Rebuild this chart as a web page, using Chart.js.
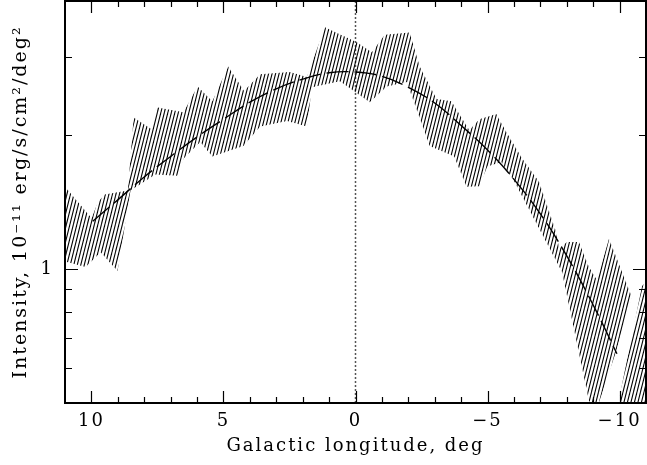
<!DOCTYPE html>
<html>
<head>
<meta charset="utf-8">
<script src="https://cdn.jsdelivr.net/npm/chart.js@4.4.0/dist/chart.umd.min.js"></script>
<style>
  html, body { margin: 0; padding: 0; background: #fff; }
  canvas { display: block; }
</style>
</head>
<body>
<canvas id="chart" width="647" height="465"></canvas>
<script>
// --- DATA ---
// hatched error band, main part: upper and lower edges
const bandUpperLon = [11.0, 9.99, 9.76, 9.50, 8.62, 8.40, 7.72, 7.54, 6.51, 5.98, 5.42, 4.82, 4.22, 3.61, 2.48, 1.84, 1.16,
  -0.05, -0.62, -1.11, -2.05, -2.43, -3.07, -3.63, -4.31, -4.69, -5.33, -5.71, -6.31, -6.95, -7.60, -7.71, -8.01, -8.46,
  -8.84, -9.14, -9.60, -10.46];
const bandUpperVal = [1.53, 1.30, 1.41, 1.47, 1.50, 2.19, 2.06, 2.31, 2.25, 2.57, 2.38, 2.85, 2.51, 2.74, 2.77, 2.70, 3.49,
  3.23, 3.07, 3.36, 3.40, 2.85, 2.41, 2.38, 2.05, 2.17, 2.23, 2.03, 1.77, 1.57, 1.21, 1.11, 1.15, 1.15,
  1.01, 0.945, 1.17, 0.866];
const bandLowerLon = [11.0, 10.22, 9.65, 9.01, 8.52, 7.58, 6.74, 6.51, 5.88, 5.42, 4.25, 3.61, 2.59, 1.84, 1.65, 0.59,
  -0.54, -1.18, -1.94, -2.81, -3.74, -4.20, -4.69, -4.99, -5.52, -6.02, -7.82, -8.84, -9.11, -9.86, -10.46];
const bandLowerVal = [1.04, 1.01, 1.09, 0.99, 1.50, 1.63, 1.62, 1.77, 1.93, 1.79, 1.89, 2.09, 2.15, 2.09, 2.56, 2.64,
  2.37, 2.57, 2.63, 1.89, 1.79, 1.53, 1.535, 1.70, 1.74, 1.57, 0.985, 0.506, 0.48, 0.651, 0.866];

// separate last piece of the band at the right edge
const tailUpperLon = [-9.89, -10.85, -11.0];
const tailUpperVal = [0.48, 0.916, 0.935];
const tailLowerLon = [-9.89, -11.0];
const tailLowerVal = [0.45, 0.45];

// dashed model curve
const modelLon = [9.95, 9, 8, 7, 6, 5, 4, 3, 2, 1, 0, -1, -2, -3, -4, -5, -6, -7, -8, -9, -9.9];
const modelVal = [1.28, 1.43, 1.61, 1.79, 1.98, 2.17, 2.37, 2.54, 2.67, 2.76, 2.77, 2.71, 2.56, 2.36, 2.10, 1.85, 1.59, 1.33, 1.07, 0.83, 0.645];

// dotted line at l = 0
const zeroLineLon = [0, 0];
const zeroLineVal = [0.5, 4];

// ticks
const xLabelTicks = [10, 5, 0, -5, -10];
const xMinorTicks = [-10, -9, -8, -7, -6, -5, -4, -3, -2, -1, 0, 1, 2, 3, 4, 5, 6, 7, 8, 9, 10];
const yLabelTicks = [1];
const yMinorTicks = [0.6, 0.7, 0.8, 0.9, 2, 3];

const FONT = "'DejaVu Serif', serif";

function toPoints(lons, vals) {
    return lons.map((l, i) => ({ x: l, y: vals[i] }));
}

function makeHatch() {
    const c = document.createElement('canvas');
    c.width = 7; c.height = 28;
    const g = c.getContext('2d');
    g.strokeStyle = '#000';
    g.lineWidth = 1.1;
    for (let x0 = -7; x0 <= 7; x0 += 3.5) {
        g.beginPath();
        g.moveTo(x0, 28);
        g.lineTo(x0 + 7, 0);
        g.stroke();
    }
    return g.createPattern(c, 'repeat');
}

// wide letter spacing like the original plotting font
const spacing = {
    id: 'spacing',
    beforeLayout(chart) { chart.ctx.letterSpacing = '2px'; },
    beforeDraw(chart) { chart.ctx.letterSpacing = '2px'; }
};

// frame + inward ticks on all four sides
const frameTicks = {
    id: 'frameTicks',
    afterDraw(chart) {
        const { ctx, chartArea: a, scales: { x, y } } = chart;
        ctx.save();
        ctx.strokeStyle = '#000';
        ctx.lineWidth = 1.2;
        ctx.beginPath();
        xMinorTicks.forEach(v => {
            const px = Math.round(x.getPixelForValue(v)) + 0.5;
            const len = v % 5 === 0 ? 12 : 6;
            ctx.moveTo(px, a.bottom); ctx.lineTo(px, a.bottom - len);
            ctx.moveTo(px, a.top); ctx.lineTo(px, a.top + len);
        });
        yMinorTicks.concat(yLabelTicks).forEach(v => {
            const py = Math.round(y.getPixelForValue(v)) + 0.5;
            const len = yLabelTicks.includes(v) ? 13 : 7;
            ctx.moveTo(a.left, py); ctx.lineTo(a.left + len, py);
            ctx.moveTo(a.right, py); ctx.lineTo(a.right - len, py);
        });
        ctx.stroke();
        ctx.lineWidth = 2;
        ctx.strokeRect(a.left, a.top, a.right - a.left, a.bottom - a.top);
        ctx.restore();
    }
};

const hatch = makeHatch();
const none = 'rgba(0,0,0,0)';

new Chart(document.getElementById('chart'), {
    type: 'line',
    data: {
        datasets: [
            { data: toPoints(bandUpperLon, bandUpperVal), fill: 1, backgroundColor: hatch, borderColor: none, borderWidth: 0, pointRadius: 0, tension: 0 },
            { data: toPoints(bandLowerLon, bandLowerVal), fill: false, borderColor: none, borderWidth: 0, pointRadius: 0, tension: 0 },
            { data: toPoints(tailUpperLon, tailUpperVal), fill: 3, backgroundColor: hatch, borderColor: none, borderWidth: 0, pointRadius: 0, tension: 0 },
            { data: toPoints(tailLowerLon, tailLowerVal), fill: false, borderColor: none, borderWidth: 0, pointRadius: 0, tension: 0 },
            { data: toPoints(modelLon, modelVal), fill: false, borderColor: '#000', borderWidth: 1.4, borderDash: [22, 6], pointRadius: 0, tension: 0.4 },
            { data: toPoints(zeroLineLon, zeroLineVal), fill: false, borderColor: '#555', borderWidth: 1.5, borderDash: [2, 2], pointRadius: 0 }
        ]
    },
    options: {
        responsive: false,
        animation: false,
        events: [],
        layout: { padding: { top: 1, right: 1, left: 0, bottom: 0 } },
        plugins: { legend: { display: false }, tooltip: { enabled: false } },
        scales: {
            x: {
                type: 'linear',
                min: -11, max: 11,
                reverse: true,
                grid: { display: false, drawTicks: false },
                border: { display: false },
                ticks: {
                    stepSize: 5,
                    includeBounds: false,
                    autoSkip: false,
                    maxRotation: 0,
                    padding: 8,
                    color: '#000',
                    font: { family: FONT, size: 18 },
                    callback: v => xLabelTicks.includes(v) ? (v < 0 ? '\u2212' + Math.abs(v) : String(v)) : ''
                },
                title: {
                    display: true,
                    text: 'Galactic longitude, deg',
                    color: '#000',
                    font: { family: FONT, size: 18 },
                    padding: { top: 0, bottom: 8 }
                },
                afterFit: s => { s.height = 62; s.paddingLeft = 0; s.paddingRight = 0; }
            },
            y: {
                type: 'logarithmic',
                min: 0.5, max: 4,
                grid: { display: false, drawTicks: false },
                border: { display: false },
                ticks: {
                    autoSkip: false,
                    padding: 11,
                    color: '#000',
                    font: { family: FONT, size: 18 },
                    callback: v => yLabelTicks.includes(v) ? String(v) : ''
                },
                title: {
                    display: true,
                    text: 'Intensity, 10\u207B\u00B9\u00B9 erg/s/cm\u00B2/deg\u00B2',
                    color: '#000',
                    font: { family: FONT, size: 19 },
                    padding: { top: 10, bottom: 0 }
                },
                afterFit: s => { s.width = 65; s.paddingTop = 0; s.paddingBottom = 0; }
            }
        }
    },
    plugins: [spacing, frameTicks]
});
</script>
</body>
</html>
